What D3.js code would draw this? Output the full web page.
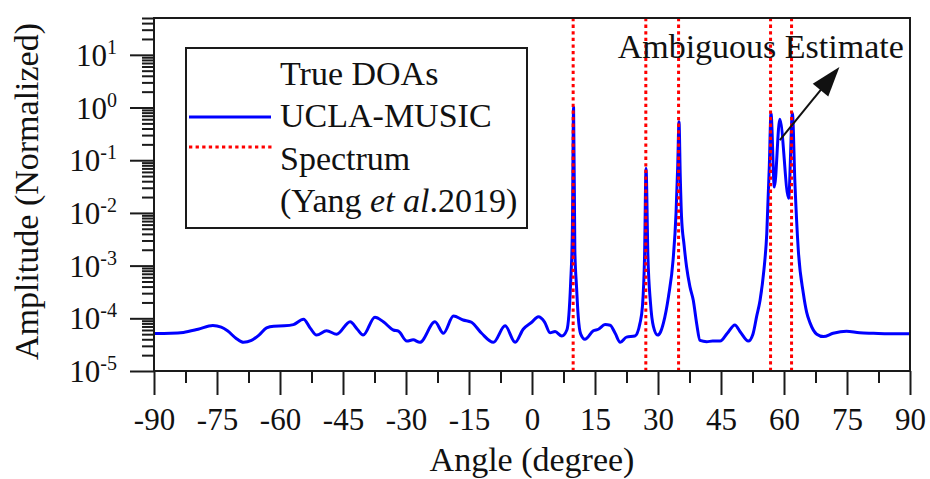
<!DOCTYPE html>
<html><head><meta charset="utf-8">
<script src="https://cdn.jsdelivr.net/npm/d3@7"></script>
<style>
body{margin:0;background:#fff}
text{font-family:"Liberation Serif","Times New Roman",serif;fill:#111}
</style>
</head><body>
<svg id="c" width="930" height="479"></svg>
<script>
// ---- data ----
const angles = [-90,-86,-83,-79.5,-76,-74,-72.5,-70.5,-68.7,-66.8,-65,-63.2,-61.5,-59,-56.8,-54.4,-52.8,-51.3,-48.9,-46.5,-43.3,-41.6,-40.2,-37.4,-35.4,-33,-31.8,-29.8,-28.3,-26.7,-23.1,-21.1,-18.7,-16.4,-14.4,-12,-9.2,-6.4,-4,-2.1,0,1.5,3,4.3,5.5,7.1,8.3,9.2,9.6,9.9,10.2,10.6,11.0,11.6,12.6,14.6,15.8,17.4,18.6,19.8,21,22.5,24.5,25.7,26.3,26.8,27.15,27.6,28.2,28.9,29.9,30.6,31.3,32.5,33.6,34.3,34.7,35.0,35.3,35.6,36.2,36.8,37.6,38.4,39.2,40,41.6,43,44.8,46.5,48.3,49.6,51.5,52.6,53.5,54.3,55.2,55.9,56.5,56.9,57.7,59.0,61.1,62.0,62.6,63.4,64.6,65.4,66.2,67.8,69.4,71.7,74.9,78,81.3,85,90];
const amplitude = [5.15e-5,5.2e-5,5.4e-5,6.2e-5,7.3e-5,6.8e-5,5.8e-5,4.2e-5,3.5e-5,3.8e-5,4.8e-5,6.6e-5,7.1e-5,7.2e-5,7.6e-5,9.6e-5,6.5e-5,4.8e-5,5.8e-5,5.0e-5,8.6e-5,6.2e-5,4.8e-5,1.05e-4,8.6e-5,6.0e-5,5.7e-5,3.7e-5,3.9e-5,3.5e-5,8.6e-5,5.2e-5,1.1e-4,9.3e-5,8.4e-5,5.2e-5,3.5e-5,7.2e-5,3.5e-5,6.2e-5,8.5e-5,1.07e-4,8.5e-5,5.3e-5,5.6e-5,4.6e-5,6.0e-5,4.7e-4,4.1e-3,1.0,2.0e-3,4.0e-4,1.1e-4,5.0e-5,4.0e-5,5.8e-5,6.2e-5,7.6e-5,7.4e-5,5.2e-5,3.5e-5,4.4e-5,4.6e-5,8.0e-5,1.7e-4,1.5e-3,0.07,1.5e-3,2.0e-4,7.0e-5,4.8e-5,5.5e-5,8.2e-5,2.6e-4,1.3e-3,1.0e-2,0.08,0.54,0.05,8.5e-3,2.5e-3,9.5e-4,4.0e-4,2.2e-4,8.0e-5,3.8e-5,3.6e-5,3.7e-5,3.7e-5,5.2e-5,7.5e-5,5.5e-5,3.7e-5,5.0e-5,1.1e-4,2.2e-4,8.0e-4,4.1e-3,0.076,0.78,0.031,0.6,0.019,0.78,0.037,2.0e-3,3.0e-4,1.3e-4,8.2e-5,5.0e-5,4.5e-5,5.2e-5,5.7e-5,5.3e-5,5.2e-5,5.1e-5,5.1e-5];
const trueDOAs = [9.8, 27.1, 34.9, 56.8, 61.8];
const xTickValues = [-90,-75,-60,-45,-30,-15,0,15,30,45,60,75,90];
const yTickExponents = [-5,-4,-3,-2,-1,0,1];
const legendLines = ["True DOAs","UCLA-MUSIC","Spectrum","(Yang et al.2019)"];
const xTitle = "Angle (degree)";
const yTitle = "Amplitude (Normalized)";
const annotationText = "Ambiguous Estimate";
const arrowTail = {angle: 59.0, value: 0.24};
const arrowTip  = {angle: 73.2, value: 5.9};
const annotationAt = {angle: 20.4, value: 8.6};

// ---- layout ----
const svg = d3.select("#c");
const L = 154, R = 910, T = 18, B = 371;
const axisColor = "#1a1a1a";
const x = d3.scaleLinear().domain([-90, 90]).range([L, R]);
const y = d3.scaleLog().domain([1e-5, 50]).range([B, T]);

svg.append("rect").attr("width",930).attr("height",479).attr("fill","#fff");

const yMinor = [];
for (let e = -5; e <= 1; e++) for (let k = 2; k <= 9; k++) { const v = k*Math.pow(10,e); if (v <= 50) yMinor.push(v); }
const xMinor = [];
for (let i = 0; i < xTickValues.length-1; i++) xMinor.push((xTickValues[i]+xTickValues[i+1])/2);

const gAx = svg.append("g");
gAx.append("g").attr("transform",`translate(${L},0)`)
  .call(d3.axisLeft(y).tickValues(yMinor).tickSize(12).tickFormat(""))
  .call(g=>g.select(".domain").remove());
gAx.append("g").attr("transform",`translate(${L},0)`)
  .call(d3.axisLeft(y).tickValues(yTickExponents.map(e=>Math.pow(10,e))).tickSize(24).tickFormat(""))
  .call(g=>g.select(".domain").remove());
gAx.append("g").attr("transform",`translate(0,${B})`)
  .call(d3.axisBottom(x).tickValues(xMinor).tickSize(12).tickFormat(""))
  .call(g=>g.select(".domain").remove());
const xMaj = gAx.append("g").attr("transform",`translate(0,${B})`)
  .call(d3.axisBottom(x).tickValues(xTickValues).tickSize(24).tickFormat(d=>d))
  .call(g=>g.select(".domain").remove());
xMaj.selectAll("text").attr("y",59).attr("dy",0).attr("font-size",31)
  .attr("font-family",'"Liberation Serif",serif').attr("fill","#111");
gAx.selectAll(".tick line").attr("stroke",axisColor).attr("stroke-width",2);

yTickExponents.forEach(e=>{
  const t = svg.append("text").attr("x",117).attr("y",y(Math.pow(10,e))+11)
    .attr("text-anchor","end").attr("font-size",31);
  t.append("tspan").text("10");
  t.append("tspan").attr("dy",-12).attr("font-size",20).text(String(e));
});

const pts = angles.map((a,i)=>[a, amplitude[i]]);
const line = d3.line().x(d=>x(d[0])).y(d=>y(d[1])).curve(d3.curveMonotoneX);
svg.append("path").datum(pts).attr("d",line).attr("fill","none")
  .attr("stroke","#0000ff").attr("stroke-width",3).attr("stroke-linejoin","round");

svg.selectAll(".doa").data(trueDOAs).enter().append("line")
  .attr("x1",d=>x(d)).attr("x2",d=>x(d)).attr("y1",T).attr("y2",B)
  .attr("stroke","#ff0000").attr("stroke-width",3).attr("stroke-dasharray","3.3,3.3");

svg.append("rect").attr("x",L).attr("y",T).attr("width",R-L).attr("height",B-T)
  .attr("fill","none").attr("stroke",axisColor).attr("stroke-width",2);

const lg = svg.append("g");
lg.append("rect").attr("x",186).attr("y",48).attr("width",341).attr("height",180)
  .attr("fill","#fff").attr("stroke",axisColor).attr("stroke-width",2);
legendLines.forEach((s,i)=>{
  const t = lg.append("text").attr("x",280).attr("y",85+42.3*i).attr("font-size",34);
  if (s.includes("et al")) {
    const parts = s.split("et al");
    t.append("tspan").text(parts[0]);
    t.append("tspan").attr("font-style","italic").text("et al");
    t.append("tspan").text(parts[1]);
  } else t.text(s);
});
lg.append("line").attr("x1",189).attr("x2",271).attr("y1",117).attr("y2",117)
  .attr("stroke","#0000ff").attr("stroke-width",3);
lg.append("line").attr("x1",189).attr("x2",272).attr("y1",147).attr("y2",147)
  .attr("stroke","#ff0000").attr("stroke-width",3).attr("stroke-dasharray","3.3,3.3");

svg.append("text").attr("x",x(annotationAt.angle)).attr("y",y(annotationAt.value))
  .attr("font-size",34).text(annotationText);
const x0 = x(arrowTail.angle), y0 = y(arrowTail.value), x1 = x(arrowTip.angle), y1 = y(arrowTip.value);
const dx = x1-x0, dy = y1-y0, len = Math.hypot(dx,dy), ux = dx/len, uy = dy/len;
const headL = 30, headW = 10;
const bx = x1-ux*headL, by = y1-uy*headL;
svg.append("line").attr("x1",x0).attr("y1",y0).attr("x2",bx+ux*2).attr("y2",by+uy*2)
  .attr("stroke","#111").attr("stroke-width",2);
svg.append("path").attr("d",`M${x1},${y1}L${bx-uy*headW},${by+ux*headW}L${bx+uy*headW},${by-ux*headW}Z`)
  .attr("fill","#111");

svg.append("text").attr("x",(L+R)/2).attr("y",471).attr("text-anchor","middle")
  .attr("font-size",34).text(xTitle);
svg.append("text").attr("transform",`translate(38,${(T+B)/2-3}) rotate(-90)`)
  .attr("text-anchor","middle").attr("font-size",34).text(yTitle);
</script>
</body></html>
